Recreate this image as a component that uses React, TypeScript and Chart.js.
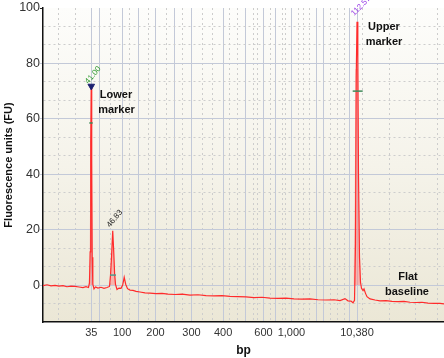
import React, { useEffect, useRef } from "react";
import { Chart, registerables } from "chart.js";

Chart.register(...registerables);

// ---------- data (x = migration time in s, y = fluorescence units) ----------
const TIME_MIN = 28;
const TIME_MAX = 136;
const FU_MIN = -40 / 3;
const FU_MAX = 100;

const traceTime = [
  28.0, 29.08, 30.15, 31.23, 32.31, 33.39, 34.46, 35.54, 36.62, 37.7, 38.77, 39.58, 40.25, 40.52, 40.71,
  40.85, 40.98, 41.12, 41.25, 41.42, 41.74, 42.14, 42.81, 43.62, 44.43, 45.24, 45.91, 46.18, 46.45, 46.78,
  47.05, 47.29, 47.53, 47.93, 48.47, 49.01, 49.46, 49.87, 50.27, 50.76, 51.43, 52.24, 53.05, 54.12, 55.47,
  56.82, 58.43, 60.05, 61.67, 63.55, 65.44, 67.59, 69.74, 71.9, 74.05, 76.21, 78.36, 80.52, 82.67, 84.83,
  86.98, 89.14, 91.29, 93.44, 95.6, 97.75, 99.91, 102.06, 104.22, 106.37, 107.99, 109.33, 110.14, 110.95,
  111.49, 111.9, 112.17, 112.36, 112.57, 112.79, 112.97, 113.24, 113.51, 113.78, 114.19, 114.46, 114.86,
  115.26, 116.07, 117.42, 118.76, 120.38, 122.0, 123.61, 125.23, 126.84, 128.46, 130.07, 131.69, 133.31,
  134.92, 136.0,
];
const traceFU = [
  -0.2, 0.1, -0.3, -0.1, -0.4, -0.2, -0.6, -0.4, -0.5, -0.7, -0.9, -0.6, -0.9, 0.8, 12,
  52, 71.3, 45, 10, 0.3, -1.4, -0.7, -1.1, -0.8, -1.2, -0.9, -0.5, 3.5, 10, 19.6,
  12, 4, 0.2, -1.6, -1.1, -1.2, 0, 2.8, 0.3, -1.3, -1.8, -1.9, -2.3, -2.5, -2.8,
  -2.9, -3.1, -3.0, -3.3, -3.4, -3.3, -3.6, -3.5, -3.8, -3.9, -3.8, -4.1, -4.2, -4.3, -4.5,
  -4.4, -4.7, -4.8, -4.7, -5.0, -5.1, -5.0, -5.3, -5.4, -5.3, -5.6, -4.9, -5.7, -5.8,
  -6.4, -5.5, 15, 75, 95, 82, 40, 10, 1, -1.2, -2.0, -1.4, -3.0,
  -4.2, -5.0, -5.4, -5.7, -5.6, -5.9, -6.0, -5.9, -6.2, -6.3, -6.2, -6.5, -6.6,
  -6.6, -6.8,
];

// shaded peak areas (null separates peaks)
const shadeTime = [40.25, 40.55, 40.77, 41.15, 41.33, 41.6, 41.7, 46.04, 46.39, 46.78, 47.13, 47.61, 47.7, 111.63, 111.95, 112.17, 112.84, 113.11, 113.51];
const shadeFU = [0, 8, 46, 46, 8, 0, null, 0, 9, 18, 9, 0, null, 0, 30, 78, 78, 30, 0];

// peak annotations
const peakTimes = [41.0, 46.83, 112.57];
const peakTopFU = [72.5, 20.7, 97.1];
const peakLabels = ["41.00", "46.83", "112.57"];

// half-height markers
const markStart = [40.47, 46.04, 111.41];
const markEnd = [41.39, 47.66, 114.1];
const markFU = [58.5, 3.6, 70];

// lower marker triangle
const triangleTime = [41.0];
const triangleFU = [71.8];

// x-axis (bp) tick labels at migration times
const bpLabels = ["35", "100", "200", "300", "400", "600", "1,000", "10,380"];
const bpTimes = [41.0, 49.3, 58.3, 68.0, 76.5, 87.4, 94.9, 112.57];
const solidGridTimes = [43.35, 53.85, 63.55, 82.54, 90.75, 101.66, 103.54, 110.68];
const dotGridTimes = [
  32.04, 36.62, 46.31, 51.43, 56.28, 61.13, 65.7, 71.09, 73.52, 78.36, 80.25, 84.56, 85.9, 89.14, 92.37,
  93.44, 96.68, 98.29, 99.91, 105.3, 107.45, 109.33, 114.18, 121.45, 128.19, 134.38,
];

// y-axis labels
const fuLabels = [0, 20, 40, 60, 80, 100];

const FONT = "'Liberation Sans', Arial, Helvetica, sans-serif";

const near = (a: number, b: number) => Math.abs(a - b) < 1e-3;
const xKind = (v: number) =>
  bpTimes.some((t) => near(t, v)) ? "label" : solidGridTimes.some((t) => near(t, v)) ? "solid" : "dot";
const isMajorY = (v: number) => fuLabels.some((t) => near(t, v));

const bgPlugin = {
  id: "bgGradient",
  beforeDraw(chart: any) {
    const { ctx, chartArea } = chart;
    const { left, top, right, bottom } = chartArea;
    const g = ctx.createLinearGradient(0, top, 0, bottom);
    g.addColorStop(0, "#fdfdfb");
    g.addColorStop(0.5, "#f5f3ea");
    g.addColorStop(1, "#ebe7d6");
    ctx.save();
    ctx.fillStyle = g;
    ctx.fillRect(left, top, right - left, bottom - top);
    ctx.restore();
  },
};

const annotationPlugin = {
  id: "annotations",
  afterDatasetsDraw(chart: any) {
    const { ctx, scales } = chart;
    const xs = scales.x;
    const ys = scales.y;
    ctx.save();
    const colors = ["#2f9a2f", "#222222", "#9a3fe6"];
    const angles = [-50, -50, -45];
    peakTimes.forEach((t, i) => {
      const px = xs.getPixelForValue(t) - 3;
      const py = ys.getPixelForValue(peakTopFU[i]);
      ctx.save();
      ctx.translate(px, py);
      ctx.rotate((angles[i] * Math.PI) / 180);
      ctx.font = `8px ${FONT}`;
      ctx.fillStyle = colors[i];
      ctx.textAlign = "left";
      ctx.textBaseline = "alphabetic";
      ctx.fillText(peakLabels[i], 0, 0);
      ctx.restore();
    });
    const notes: [string, number, number][] = [
      ["Lower", 47.66, 68.5],
      ["marker", 47.8, 63.1],
      ["Upper", 119.84, 93.3],
      ["marker", 119.84, 87.9],
      ["Flat", 126.3, 3.0],
      ["baseline", 126.03, -2.4],
    ];
    ctx.font = `bold 11px ${FONT}`;
    ctx.fillStyle = "#111";
    ctx.textAlign = "center";
    ctx.textBaseline = "middle";
    notes.forEach(([txt, t, v]) => {
      ctx.fillText(txt, xs.getPixelForValue(t), ys.getPixelForValue(v));
    });
    ctx.restore();
  },
};

export default function App() {
  const ref = useRef<HTMLCanvasElement | null>(null);

  useEffect(() => {
    document.body.style.margin = "0";
    const canvas = ref.current;
    if (!canvas) return;

    const xTickValues = [...bpTimes, ...solidGridTimes, ...dotGridTimes].sort((a, b) => a - b);
    const yTickValues: number[] = [];
    for (let k = 0; k <= 17; k++) yTickValues.push(FU_MIN + (k * 20) / 3);

    const markDatasets = markFU.map((v, i) => ({
      type: "line" as const,
      data: [
        { x: markStart[i], y: v },
        { x: markEnd[i], y: v },
      ],
      borderColor: i === 1 ? "#4f9a8c" : "#3f8a5a",
      borderWidth: 1.5,
      pointRadius: 0,
      fill: false,
      order: 2,
    }));

    const chart = new Chart(canvas, {
      type: "line",
      data: {
        datasets: [
          {
            data: shadeTime.map((t, i) => ({ x: t, y: shadeFU[i] })),
            borderWidth: 0,
            borderColor: "rgba(0,0,0,0)",
            backgroundColor: "rgba(255,120,120,0.45)",
            pointRadius: 0,
            fill: "origin",
            spanGaps: false,
            order: 4,
          },
          {
            data: traceTime.map((t, i) => ({ x: t, y: traceFU[i] })),
            borderColor: "#ff2b2b",
            borderWidth: 1.2,
            pointRadius: 0,
            fill: false,
            tension: 0,
            order: 3,
          },
          ...markDatasets,
          {
            data: triangleTime.map((t, i) => ({ x: t, y: triangleFU[i] })),
            showLine: false,
            pointStyle: "triangle",
            rotation: 180,
            pointRadius: 3.8,
            backgroundColor: "#1c2070",
            borderColor: "#1c2070",
            borderWidth: 1,
            order: 1,
          },
        ] as any,
      },
      options: {
        animation: false,
        responsive: false,
        devicePixelRatio: 1,
        layout: { autoPadding: false, padding: { top: 8, left: 0, right: 0, bottom: 0 } },
        plugins: { legend: { display: false }, tooltip: { enabled: false } },
        scales: {
          x: {
            type: "linear",
            min: TIME_MIN,
            max: TIME_MAX,
            afterBuildTicks: (s: any) => {
              s.ticks = xTickValues.map((v) => ({ value: v }));
            },
            afterFit: (s: any) => {
              s.height = 36;
              s.paddingLeft = 0;
              s.paddingRight = 0;
            },
            ticks: {
              autoSkip: false,
              maxRotation: 0,
              minRotation: 0,
              padding: 4.5,
              color: "#333",
              font: { size: 11, family: FONT },
              callback: (v: any) => {
                const idx = bpTimes.findIndex((t) => near(t, Number(v)));
                return idx >= 0 ? bpLabels[idx] : "";
              },
            },
            grid: {
              drawTicks: false,
              lineWidth: 1,
              color: (ctx: any) => {
                if (!ctx.tick) return "#c5cbd8";
                return xKind(ctx.tick.value) === "dot" ? "#cdcdcd" : "#c3c9d8";
              },
            },
            border: {
              color: "#111",
              width: 1.5,
              dash: (ctx: any) => (ctx.tick && xKind(ctx.tick.value) === "dot" ? [2, 3] : []),
            },
            title: {
              display: true,
              text: "bp",
              color: "#111",
              font: { size: 12, weight: "bold", family: FONT },
              padding: { top: 0, bottom: 0 },
            },
          },
          y: {
            type: "linear",
            min: FU_MIN,
            max: FU_MAX,
            afterBuildTicks: (s: any) => {
              s.ticks = yTickValues.map((v) => ({ value: v }));
            },
            afterFit: (s: any) => {
              s.width = 43;
              s.paddingTop = 0;
              s.paddingBottom = 0;
            },
            ticks: {
              autoSkip: false,
              padding: 0,
              color: "#333",
              font: { size: 12.5, family: FONT },
              callback: (v: any) => {
                const idx = fuLabels.findIndex((t) => near(t, Number(v)));
                return idx >= 0 ? String(fuLabels[idx]) : "";
              },
            },
            grid: {
              tickLength: 3,
              lineWidth: 1,
              color: (ctx: any) => {
                if (!ctx.tick) return "#c3c9d8";
                const v = ctx.tick.value;
                if (near(v, FU_MAX) || near(v, FU_MIN)) return "rgba(0,0,0,0)";
                return isMajorY(v) ? "#c3c9d8" : "#cdcdcd";
              },
              tickColor: (ctx: any) => {
                if (!ctx.tick) return "rgba(0,0,0,0)";
                const v = ctx.tick.value;
                if (near(v, FU_MAX)) return "#222";
                return isMajorY(v) ? "#c3c9d8" : "rgba(0,0,0,0)";
              },
            },
            border: {
              color: "#111",
              width: 1.5,
              dash: (ctx: any) => (ctx.tick && !isMajorY(ctx.tick.value) ? [2, 3] : []),
            },
            title: {
              display: true,
              text: "Fluorescence units (FU)",
              color: "#111",
              font: { size: 11, weight: "bold", family: FONT },
              padding: { top: 2, bottom: 0 },
            },
          },
        },
      } as any,
      plugins: [bgPlugin, annotationPlugin],
    });

    return () => chart.destroy();
  }, []);

  return (
    <div style={{ position: "absolute", left: 0, top: 0, width: 444, height: 358 }}>
      <canvas ref={ref} width={444} height={358} style={{ display: "block", width: 444, height: 358 }} />
    </div>
  );
}
